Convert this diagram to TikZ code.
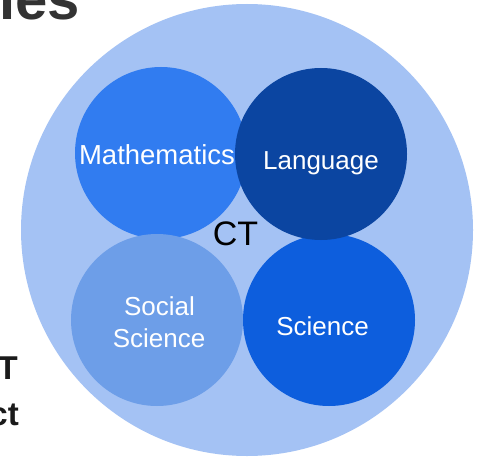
\documentclass[tikz,border=0pt]{standalone}
\usepackage{fontspec}
\setmainfont{Liberation Sans}
\definecolor{bigc}{HTML}{A4C2F4}
\definecolor{mathc}{HTML}{317CF0}
\definecolor{langc}{HTML}{0B45A1}
\definecolor{socc}{HTML}{6D9EE8}
\definecolor{scic}{HTML}{0D5EDD}
\definecolor{titlec}{HTML}{333333}
\definecolor{fragc}{HTML}{1A1A1A}
\begin{document}
\begin{tikzpicture}[x=1pt,y=-1pt,
  disc/.style={circle,inner sep=0pt,minimum size=172pt},
  lbl/.style={text=white,inner sep=0pt,anchor=base,font=\fontsize{26}{30}\selectfont},
  frag/.style={inner sep=0pt,anchor=base east,font=\bfseries\fontsize{33}{40}\selectfont,text=fragc}]
\useasboundingbox (0,0) rectangle (478,457);
\clip (0,0) rectangle (478,457);
\fill[white] (0,0) rectangle (478,457);
% fragments of slide text
\node[frag,font=\bfseries\fontsize{58}{64}\selectfont,text=titlec] (title) at (80,20) {ies};
\node[frag] (fragA) at (18,379) {T};
\node[frag] (fragB) at (19,425) {ct};
% outer circle
\node[circle,inner sep=0pt,minimum size=452pt,fill=bigc] (outer) at (247,230) {};
% subject circles
\node[disc,fill=mathc] (math) at (161,153) {};
\node[lbl,font=\fontsize{27.5}{30}\selectfont] (mathl) at (157,164) {Mathematics};
\node[disc,fill=scic] (sci) at (329,320) {};
\node[lbl] (scil) at (322.5,335) {Science};
\node[disc,fill=langc] (lang) at (321,154) {};
\node[lbl] (langl) at (321,169) {Language};
\node[disc,fill=socc] (soc) at (157,320) {};
\node[lbl] (socl1) at (159.5,315) {Social};
\node[lbl] (socl2) at (159,347) {Science};
% centre label
\node[inner sep=0pt,anchor=base,font=\fontsize{34}{38}\selectfont,text=black] (ctl) at (235.5,245) {CT};
\end{tikzpicture}
\end{document}
